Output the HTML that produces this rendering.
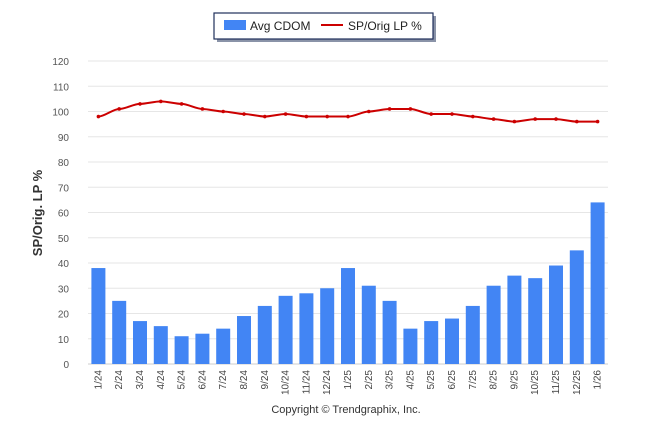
<!DOCTYPE html>
<html><head><meta charset="utf-8"><style>
body{margin:0;background:#fff;font-family:"Liberation Sans",sans-serif;}
svg text{font-family:"Liberation Sans",sans-serif;}
</style></head><body>
<svg id="c" width="646" height="434">
<rect x="217" y="16" width="219" height="26" fill="#8a93a8"/>
<rect x="214" y="13" width="219" height="26" fill="#fff" stroke="#1f2f5a" stroke-width="1.2"/>
<rect x="224" y="20" width="22" height="10" fill="#4285f4"/>
<text x="250" y="30" font-size="12" fill="#222">Avg CDOM</text>
<line x1="321" y1="25" x2="343" y2="25" stroke="#cc0000" stroke-width="2"/>
<text x="348" y="30" font-size="12" fill="#222">SP/Orig LP %</text>
<text x="0" y="0" transform="translate(42,213) rotate(-90)" text-anchor="middle" font-size="13" font-weight="bold" fill="#333">SP/Orig. LP %</text>
<text x="346" y="413" text-anchor="middle" font-size="11" fill="#333">Copyright © Trendgraphix, Inc.</text>
<g id="g"></g>
</svg>
<script>
const categories=["1/24","2/24","3/24","4/24","5/24","6/24","7/24","8/24","9/24","10/24","11/24","12/24","1/25","2/25","3/25","4/25","5/25","6/25","7/25","8/25","9/25","10/25","11/25","12/25","1/26"];
const cdom=[38,25,17,15,11,12,14,19,23,27,28,30,38,31,25,14,17,18,23,31,35,34,39,45,64];
const lp=[98,101,103,104,103,101,100,99,98,99,98,98,98,100,101,101,99,99,98,97,96,97,97,96,96];
const ticks=[0,10,20,30,40,50,60,70,80,90,100,110,120];
const NS="http://www.w3.org/2000/svg",g=document.getElementById('g');
const x0=88,x1=608,yB=364,yT=61;
const y=v=>yB-(v/120)*(yB-yT);
const step=(x1-x0)/categories.length;
const x=i=>x0+step*(i+0.5);
function mk(t,a){const e=document.createElementNS(NS,t);for(const k in a)e.setAttribute(k,a[k]);g.appendChild(e);return e;}
ticks.forEach(t=>{
 const l=mk('line',{x1:x0,x2:x1,y1:y(t),y2:y(t),stroke:t===0?'#ccc':'#e6e6e6','stroke-width':1});
 
 
 const tx=mk('text',{x:69,y:y(t)+4,'text-anchor':'end','font-size':10,fill:'#555'});tx.textContent=t;
 
 
});
categories.forEach((c,i)=>{
 const r=mk('rect',{x:x(i)-7,y:y(cdom[i]),width:14,height:yB-y(cdom[i]),fill:'#4285f4'});
 
 
 const t=mk('text',{x:0,y:0,transform:`translate(${x(i)+3},${yB+6}) rotate(-90)`,'text-anchor':'end','font-size':10,fill:'#444'});t.textContent=c;
 
 
});
let d='';lp.forEach((v,i)=>{
 if(i===0){d+=`M${x(i)},${y(v)}`;return;}
 const px=x(i-1),py=y(lp[i-1]),cx=x(i),cy=y(v),m=step/2;
 d+=` C${px+m*0.6},${py} ${cx-m*0.6},${cy} ${cx},${cy}`;
});
const p=mk('path',{d:d,fill:'none',stroke:'#cc0000','stroke-width':2});


lp.forEach((v,i)=>{const c=mk('circle',{cx:x(i),cy:y(v),r:1.8,fill:'#cc0000'});
 
 });
</script>
</body></html>
